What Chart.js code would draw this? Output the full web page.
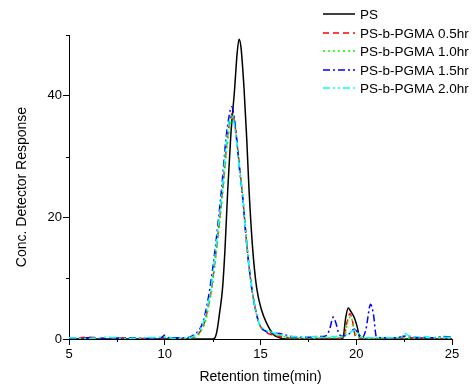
<!DOCTYPE html>
<html>
<head>
<meta charset="utf-8">
<script src="https://cdn.jsdelivr.net/npm/chart.js@4/dist/chart.umd.min.js"></script>
<style>
  html, body { margin: 0; padding: 0; background: #fff; }
  #wrap { width: 476px; height: 389px; }
</style>
</head>
<body>
<div id="wrap"><canvas id="gpc" width="476" height="389"></canvas></div>
<script>
'use strict'

// GPC traces, retention time (min) vs detector response
const seriesLabels = ['PS', 'PS-b-PGMA 0.5hr', 'PS-b-PGMA 1.0hr', 'PS-b-PGMA 1.5hr', 'PS-b-PGMA 2.0hr']

const psTime = [5, 8, 11, 12.5, 12.6, 12.72, 12.86, 13.02, 13.15, 13.29, 13.45, 13.65, 13.78, 13.88, 13.98, 14.14, 14.28, 14.4, 14.6, 14.8, 15.05, 15.32, 15.66, 16.0, 16.3, 17, 19.0, 19.3, 19.45, 19.58, 19.7, 19.9, 20.05, 20.2, 21, 25]
const psResp = [0, 0, 0, 0, 0.1, 1.2, 4.2, 8.4, 15, 24.6, 33.5, 41.2, 47, 49.3, 48, 41.2, 33, 24.6, 14.5, 8.4, 4.8, 2.6, 0.8, 0.2, 0, 0, 0, 0.1, 3.5, 5.1, 4.6, 3.5, 2.0, 0.1, 0, 0]

const hr05Time = [5, 6, 7, 8, 9, 10, 11, 11.5, 11.7, 11.9, 12.1, 12.3, 12.45, 12.7, 13.03, 13.25, 13.4, 13.54, 13.65, 13.8, 13.95, 14.05, 14.3, 14.55, 14.9, 15.2, 15.5, 16.0, 16.5, 17, 18, 19.0, 19.35, 19.5, 19.67, 19.8, 19.95, 20.2, 21, 22, 23, 24, 25]
const hr05Resp = [0, 0.3, 0.1, 0.2, 0.1, 0.2, 0.1, 0.2, 0.6, 1.5, 3.0, 5.8, 8.4, 15, 24.8, 32.5, 36, 37.1, 35.5, 31.5, 27, 24, 15, 8.2, 2.8, 1.3, 0.8, 0.4, 0.2, 0.1, 0.1, 0.1, 0.3, 2.5, 4.2, 3.0, 0.5, 0.1, 0.1, 0.1, 0.2, 0.1, 0]

const hr10Time = [5, 6, 7, 8, 9, 10, 11, 11.5, 11.75, 11.95, 12.15, 12.3, 12.47, 12.7, 13.05, 13.25, 13.42, 13.56, 13.68, 13.82, 13.97, 14.08, 14.32, 14.57, 14.9, 15.1, 15.4, 15.8, 16.2, 16.6, 17.5, 18.5, 19.2, 19.4, 19.55, 19.7, 19.85, 20.0, 20.2, 21, 22, 23, 24, 25]
const hr10Resp = [0.1, 0.2, 0, 0.2, 0.1, 0.3, 0.1, 0.2, 0.7, 1.6, 3.1, 5.5, 8.4, 14.5, 24.5, 31.5, 35.2, 36.5, 35, 31, 26.5, 23.5, 14.5, 8, 2.7, 1.6, 1.3, 0.8, 0.4, 0.2, 0.1, 0.2, 0.2, 0.6, 2.8, 3.7, 2.4, 0.6, 0.2, 0.1, 0.2, 0.1, 0.2, 0.1]

const hr15Time = [5, 6, 7, 8, 9, 9.8, 10.0, 10.2, 11.0, 11.3, 11.58, 11.8, 12.01, 12.2, 12.36, 12.6, 12.97, 13.2, 13.35, 13.49, 13.6, 13.75, 13.9, 14.02, 14.3, 14.54, 14.89, 15.3, 15.6, 16.0, 16.5, 17, 17.5, 18.0, 18.4, 18.6, 18.8, 18.95, 19.1, 19.3, 19.6, 19.9, 20.1, 20.3, 20.5, 20.75, 20.9, 21.05, 21.5, 22, 22.6, 23, 24, 24.5, 25]
const hr15Resp = [0.1, 0.2, 0.1, 0.2, 0.1, 0.2, 0.6, 0.2, 0.2, 0.3, 0.8, 1.5, 2.95, 5.5, 8.4, 14, 24.8, 33, 36.5, 38.2, 37, 33, 28, 24.8, 15, 8.4, 2.95, 1.2, 1.0, 0.9, 0.5, 0.3, 0.3, 0.4, 0.5, 1.5, 3.6, 2.5, 0.8, 0.5, 0.8, 1.6, 1.0, 0.2, 1.5, 5.7, 4, 0.4, 0.2, 0.2, 0.5, 0.3, 0.2, 0.4, 0.3]

const hr20Time = [5, 6, 7, 8, 9, 10, 10.5, 11, 11.4, 11.65, 11.85, 12.05, 12.25, 12.42, 12.65, 13.0, 13.22, 13.38, 13.5, 13.62, 13.78, 13.93, 14.04, 14.3, 14.55, 14.9, 15.2, 15.5, 15.9, 16.3, 16.8, 17.3, 17.8, 18.3, 18.8, 19.3, 19.6, 19.93, 20.15, 20.4, 21, 22, 22.4, 22.55, 22.75, 23.2, 23.6, 24, 24.5, 25]
const hr20Resp = [0.2, 0.1, 0.3, 0.1, 0.2, 0.3, 0.1, 0.2, 0.3, 0.8, 1.6, 3.0, 5.6, 8.4, 14.5, 24.6, 32.5, 36, 37, 35.5, 31.5, 27, 24.4, 15, 8.3, 2.9, 1.6, 1.2, 0.8, 0.5, 0.4, 0.3, 0.4, 0.3, 0.4, 0.5, 0.9, 1.5, 0.8, 0.2, 0.2, 0.2, 0.4, 0.9, 0.5, 0.3, 0.4, 0.2, 0.3, 0.2]

const xMajorTicks = [5, 10, 15, 20, 25]
const xMinorTicks = [7.5, 12.5, 17.5, 22.5]
const yMajorTicks = [0, 20, 40]
const yMinorTicks = [10, 30, 50]

const FONT = '"Liberation Sans", Arial, sans-serif'

const toPoints = (times, resp) => times.map((t, i) => ({x: t, y: resp[i]}))

const traces = [
    {time: psTime, resp: psResp, color: '#000000', dash: []},
    {time: hr05Time, resp: hr05Resp, color: '#ff0000', dash: [6, 4]},
    {time: hr10Time, resp: hr10Resp, color: '#00ff00', dash: [2, 3]},
    {time: hr15Time, resp: hr15Resp, color: '#0000ff', dash: [7, 3, 2, 3]},
    {time: hr20Time, resp: hr20Resp, color: '#00ffff', dash: [7, 3, 2, 3, 2, 3]},
]

// small outward ticks between the labelled ones
const minorTicks = {
    id: 'minorTicks',
    afterDraw(chart) {
        const {ctx, scales: {x, y}} = chart
        ctx.save()
        ctx.strokeStyle = '#000'
        ctx.lineWidth = 1
        ctx.beginPath()
        xMinorTicks.forEach(v => {
            const px = Math.round(x.getPixelForValue(v)) + 0.5
            ctx.moveTo(px, x.top)
            ctx.lineTo(px, x.top + 3)
        })
        yMinorTicks.forEach(v => {
            const py = Math.round(y.getPixelForValue(v)) + 0.5
            ctx.moveTo(y.right, py)
            ctx.lineTo(y.right - 3, py)
        })
        ctx.stroke()
        ctx.restore()
    },
}

// Origin-style legend sitting over the top right corner
const lineLegend = {
    id: 'lineLegend',
    afterDraw(chart) {
        const ctx = chart.ctx
        ctx.save()
        ctx.font = '13.5px ' + FONT
        ctx.textBaseline = 'middle'
        chart.data.datasets.forEach((ds, i) => {
            const cy = Math.round(14 + i * 18.5)
            ctx.strokeStyle = ds.borderColor
            ctx.lineWidth = ds.borderWidth
            ctx.setLineDash(ds.borderDash)
            ctx.beginPath()
            ctx.moveTo(323, cy)
            ctx.lineTo(355, cy)
            ctx.stroke()
            ctx.setLineDash([])
            ctx.fillStyle = '#000'
            ctx.fillText(ds.label, 360, cy + 1)
        })
        ctx.restore()
    },
}

new Chart(document.getElementById('gpc'), {
    type: 'line',
    data: {
        datasets: traces.map((t, i) => ({
            label: seriesLabels[i],
            data: toPoints(t.time, t.resp),
            borderColor: t.color,
            borderWidth: 1.5,
            borderDash: t.dash,
            pointRadius: 0,
            fill: false,
            cubicInterpolationMode: 'monotone',
            order: traces.length - i,
        })),
    },
    options: {
        responsive: false,
        animation: false,
        layout: {
            padding: {top: 35, right: 24, left: 0, bottom: 0},
        },
        plugins: {
            legend: {display: false},
            tooltip: {enabled: false},
        },
        scales: {
            x: {
                type: 'linear',
                min: 5,
                max: 25,
                afterBuildTicks: axis => { axis.ticks = xMajorTicks.map(v => ({value: v})) },
                afterFit: axis => { axis.height = 50 },
                grid: {drawOnChartArea: false, tickLength: 6, tickColor: '#000'},
                border: {color: '#000', width: 1},
                ticks: {color: '#000', padding: 2, maxRotation: 0, font: {family: FONT, size: 13}},
                title: {
                    display: true,
                    text: 'Retention time(min)',
                    color: '#000',
                    font: {family: FONT, size: 14},
                    padding: {top: 0, bottom: 3},
                },
            },
            y: {
                min: 0,
                max: 50,
                afterBuildTicks: axis => { axis.ticks = yMajorTicks.map(v => ({value: v})) },
                afterFit: axis => { axis.width = 69 },
                grid: {drawOnChartArea: false, tickLength: 6, tickColor: '#000'},
                border: {color: '#000', width: 1},
                ticks: {color: '#000', padding: 1, font: {family: FONT, size: 13}},
                title: {
                    display: true,
                    text: 'Conc. Detector Response',
                    color: '#000',
                    font: {family: FONT, size: 14},
                    padding: {top: 14, bottom: 0},
                },
            },
        },
    },
    plugins: [minorTicks, lineLegend],
})
</script>
</body>
</html>
